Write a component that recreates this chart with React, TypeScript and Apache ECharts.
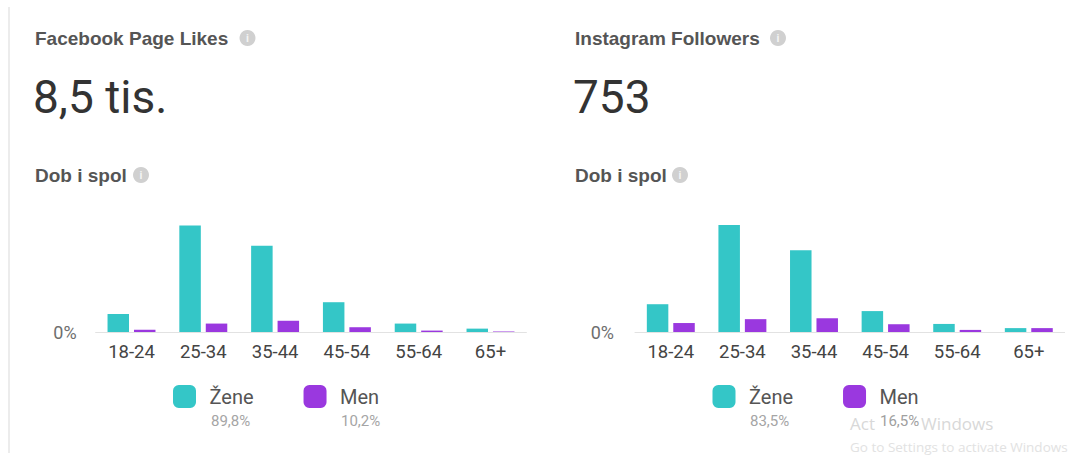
import React, { useEffect, useRef } from "react";
import * as echarts from "echarts";

const ageGroups = ["18-24", "25-34", "35-44", "45-54", "55-64", "65+"];
const fbWomen = [6.4, 37.9, 30.7, 10.6, 3.0, 1.2];
const fbMen = [0.8, 3.0, 4.0, 1.7, 0.5, 0.2];
const igWomen = [9.3, 35.8, 27.4, 7.0, 2.7, 1.3];
const igMen = [3.0, 4.3, 4.6, 2.6, 0.7, 1.3];
const seriesNames = ["Žene", "Men"];
const fbTotals = ["89,8%", "10,2%"];
const igTotals = ["83,5%", "16,5%"];
const panelTitles = ["Facebook Page Likes", "Instagram Followers"];
const panelValues = ["8,5 tis.", "753"];
const subTitle = "Dob i spol";
const watermark = ["Act", "Windows", "Go to Settings to activate Windows"];

const TEAL = "#34c6c7";
const PURPLE = "#9a38df";
const FONT = "Roboto, 'Noto Sans', sans-serif";
const HFONT = "'Liberation Sans', Arial, sans-serif";
const WFONT = "'Open Sans', sans-serif";

export default function App() {
  const ref = useRef<HTMLDivElement>(null);
  useEffect(() => {
    if (!ref.current) return;
    const chart = echarts.init(ref.current, undefined, { renderer: "svg" });

    const txt = (text: string, x: number, y: number, size: number, fill: string, weight: any = "normal", family = FONT) => ({
      type: "text",
      x,
      y,
      silent: true,
      style: { text, fill, fontSize: size, fontWeight: weight, fontFamily: family, align: "left", verticalAlign: "middle" },
    });
    const info = (cx: number, cy: number) => ({
      type: "group",
      silent: true,
      children: [
        { type: "circle", shape: { cx, cy, r: 8 }, style: { fill: "#d0d0d0" } },
        { type: "text", x: cx, y: cy + 0.5, style: { text: "i", fill: "#f4f4f4", fontSize: 11, fontWeight: "bold", fontFamily: FONT, align: "center", verticalAlign: "middle" } },
      ],
    });

    const yAxisBase = (max: number, idx: number, margin: number) => ({
      type: "value",
      gridIndex: idx,
      min: 0,
      max,
      interval: max,
      splitLine: { show: false },
      axisLine: { show: false },
      axisTick: { show: false },
      axisLabel: {
        formatter: (v: number) => (v === 0 ? "0%" : ""),
        color: "#6e6e6e",
        fontSize: 18,
        fontFamily: FONT,
        margin,
      },
    });
    const xAxisBase = (idx: number) => ({
      type: "category",
      gridIndex: idx,
      data: ageGroups,
      axisLine: { lineStyle: { color: "#e2e2e2", width: 1 } },
      axisTick: { show: false },
      axisLabel: { color: "#444", fontSize: 18.5, fontFamily: FONT, margin: 10 },
    });
    const bar = (name: string, data: number[], color: string, idx: number) => ({
      type: "bar",
      name,
      data,
      xAxisIndex: idx,
      yAxisIndex: idx,
      barWidth: 21.5,
      barGap: "23%",
      itemStyle: { color },
    });
    const legend = (left: number) => ({
      left,
      top: 380,
      itemWidth: 23,
      itemHeight: 23,
      itemGap: 50,
      icon: "roundRect",
      selectedMode: false,
      data: seriesNames,
      textStyle: { color: "#555", fontSize: 20, fontFamily: FONT, padding: [0, 0, 0, 8.5] },
    });

    chart.setOption({
      animation: false,
      backgroundColor: "#fff",
      grid: [
        { left: 95.6, width: 430.8, top: 214, bottom: 127 },
        { left: 635, width: 429.6, top: 214, bottom: 127 },
      ],
      xAxis: [xAxisBase(0), xAxisBase(1)],
      yAxis: [yAxisBase(42, 0, 19), yAxisBase(39.5, 1, 21)],
      legend: [legend(168), legend(707.5)],
      series: [
        bar(seriesNames[0], fbWomen, TEAL, 0),
        bar(seriesNames[1], fbMen, PURPLE, 0),
        bar(seriesNames[0], igWomen, TEAL, 1),
        bar(seriesNames[1], igMen, PURPLE, 1),
      ],
      graphic: [
        { type: "rect", silent: true, shape: { x: 8, y: 7, width: 2, height: 446 }, style: { fill: "#ececec" } },
        txt(panelTitles[0], 35, 38, 19, "#555", "bold", HFONT),
        info(247.5, 38),
        txt(panelValues[0], 33, 97, 46, "#333"),
        txt(subTitle, 35, 175, 19, "#555", "bold", HFONT),
        info(141, 175),
        txt(panelTitles[1], 575, 38, 19, "#555", "bold", HFONT),
        info(778, 38),
        txt(panelValues[1], 573, 97, 46, "#333"),
        txt(subTitle, 575, 175, 19, "#555", "bold", HFONT),
        info(680, 175),
        txt(fbTotals[0], 211, 421, 15, "#a5a5a5"),
        txt(fbTotals[1], 341, 421, 15, "#a5a5a5"),
        txt(igTotals[0], 750, 421, 15, "#a5a5a5"),
        txt(watermark[0], 850, 423, 17, "#d8d8d8", "normal", WFONT),
        txt(igTotals[1], 880, 421, 15, "#a0a0a0"),
        txt(watermark[1], 921, 423, 17, "#d8d8d8", "normal", WFONT),
        txt(watermark[2], 850, 447, 13.5, "#e2e2e2", "normal", WFONT),
      ],
    });
    return () => chart.dispose();
  }, []);
  return <div ref={ref} style={{ position: "absolute", left: 0, top: 0, width: 1072, height: 459 }} />;
}
